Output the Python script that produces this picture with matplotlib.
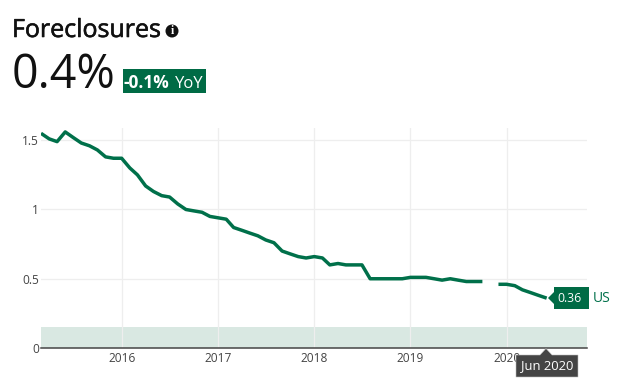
import matplotlib
matplotlib.use("Agg")
import matplotlib.pyplot as plt
import matplotlib.dates as mdates
import matplotlib.patheffects as pe
from matplotlib.patches import Polygon, Rectangle, Circle
import numpy as np
import pandas as pd

W, H = 618, 382
GREEN = "#00704a"
BADGE = "#006b45"
GREY = "#444444"

plt.rcParams["font.family"] = ["Open Sans", "DejaVu Sans"]

dates = pd.date_range("2015-03-01", "2020-06-01", freq="MS")
values = [1.55, 1.51, 1.49, 1.56, 1.52, 1.48, 1.46, 1.43, 1.38, 1.37,
          1.37, 1.30, 1.25, 1.17, 1.13, 1.10, 1.09, 1.04, 1.00, 0.99, 0.98, 0.95,
          0.94, 0.93, 0.87, 0.85, 0.83, 0.81, 0.78, 0.76, 0.70, 0.68, 0.66, 0.65,
          0.66, 0.65, 0.60, 0.61, 0.60, 0.60, 0.60, 0.50, 0.50, 0.50, 0.50, 0.50,
          0.51, 0.51, 0.51, 0.50, 0.49, 0.50, 0.49, 0.48, 0.48, 0.48, np.nan, 0.46,
          0.46, 0.45, 0.42, 0.40, 0.38, 0.36]
y_ticks = [0, 0.5, 1, 1.5]
y_labels = ["0", "0.5", "1", "1.5"]
x_years = [2016, 2017, 2018, 2019, 2020]
band_top = 0.15


def fx(x):
    return x / W


def fy(y):
    return 1 - y / H


fig = plt.figure(figsize=(W / 100, H / 100), dpi=100)
fig.patch.set_facecolor("white")

ax = fig.add_axes([fx(41), fy(348), fx(587) - fx(41), fy(128) - fy(348)])
ax.set_xlim(pd.Timestamp("2015-03-01"), pd.Timestamp("2020-11-01"))
ax.set_ylim(0, 220 / 138.5)

ax.axhspan(0, band_top, color="#d9e8e2", lw=0, zorder=1)
ax.plot(dates, values, color=GREEN, lw=2.5, zorder=4, solid_capstyle="butt")

ax.set_yticks(y_ticks)
ax.set_yticklabels(y_labels)
ax.set_xticks([pd.Timestamp(str(y) + "-01-01") for y in x_years])
ax.xaxis.set_major_formatter(mdates.DateFormatter("%Y"))
ax.tick_params(axis="both", length=0, labelsize=8.6, labelcolor=GREY)
ax.tick_params(axis="x", pad=3)
ax.tick_params(axis="y", pad=1.5)
ax.grid(True, color="#eeeeee", lw=0.9, zorder=2)
ax.set_axisbelow(False)
for s in ["top", "right", "left"]:
    ax.spines[s].set_visible(False)
ax.spines["bottom"].set_color(GREY)
ax.spines["bottom"].set_linewidth(1.1)
ax.spines["bottom"].set_zorder(5)

# header
title = fig.text(fx(12), fy(37), "Foreclosures", fontsize=18, color="#111111", va="baseline")
title.set_path_effects([pe.withStroke(linewidth=0.4, foreground="#111111")])
px_ax = fig.add_axes([0, 0, 1, 1], facecolor="none")
px_ax.set_xlim(0, W)
px_ax.set_ylim(H, 0)
px_ax.axis("off")
px_ax.add_patch(Circle((172, 31), 6.5, fc="#111111", lw=0))
px_ax.text(172, 31, "i", fontsize=8.5, color="white", ha="center", va="center",
           fontweight="bold", family="Liberation Serif")
fig.text(fx(12), fy(88), "0.4%", fontsize=33.5, color="#111111", va="baseline")

fig.add_artist(Rectangle((fx(123), fy(93)), fx(83), 24 / H, transform=fig.transFigure,
                         fc=BADGE, lw=0))
fig.text(fx(124), fy(87.5), "-0.1%", fontsize=12.4, color="white", fontweight="bold", va="baseline")
fig.text(fx(175), fy(87.5), "YoY", fontsize=12, color="white", va="baseline")

# end label
fig.add_artist(Polygon([(fx(548), fy(298)), (fx(554), fy(292)), (fx(554), fy(287)),
                        (fx(589), fy(287)), (fx(589), fy(309)), (fx(554), fy(309)),
                        (fx(554), fy(304))],
                       closed=True, transform=fig.transFigure, fc=BADGE, lw=0, zorder=6))
fig.text(fx(570), fy(298), "0.36", fontsize=8.8, color="white", ha="center", va="center", zorder=7)
fig.text(fx(593), fy(298), "US", fontsize=10, color=GREEN, ha="left", va="center", zorder=7)

# hover tooltip
fig.add_artist(Polygon([(fx(546), fy(348.5)), (fx(552), fy(355)), (fx(578), fy(355)),
                        (fx(578), fy(377)), (fx(516), fy(377)), (fx(516), fy(355)),
                        (fx(540), fy(355))],
                       closed=True, transform=fig.transFigure, fc="#444444", ec="#bbbbbb",
                       lw=0.4, zorder=6))
fig.text(fx(547), fy(366), "Jun 2020", fontsize=9.4, color="white", ha="center", va="center", zorder=7)

fig.savefig("out.png", dpi=100)
